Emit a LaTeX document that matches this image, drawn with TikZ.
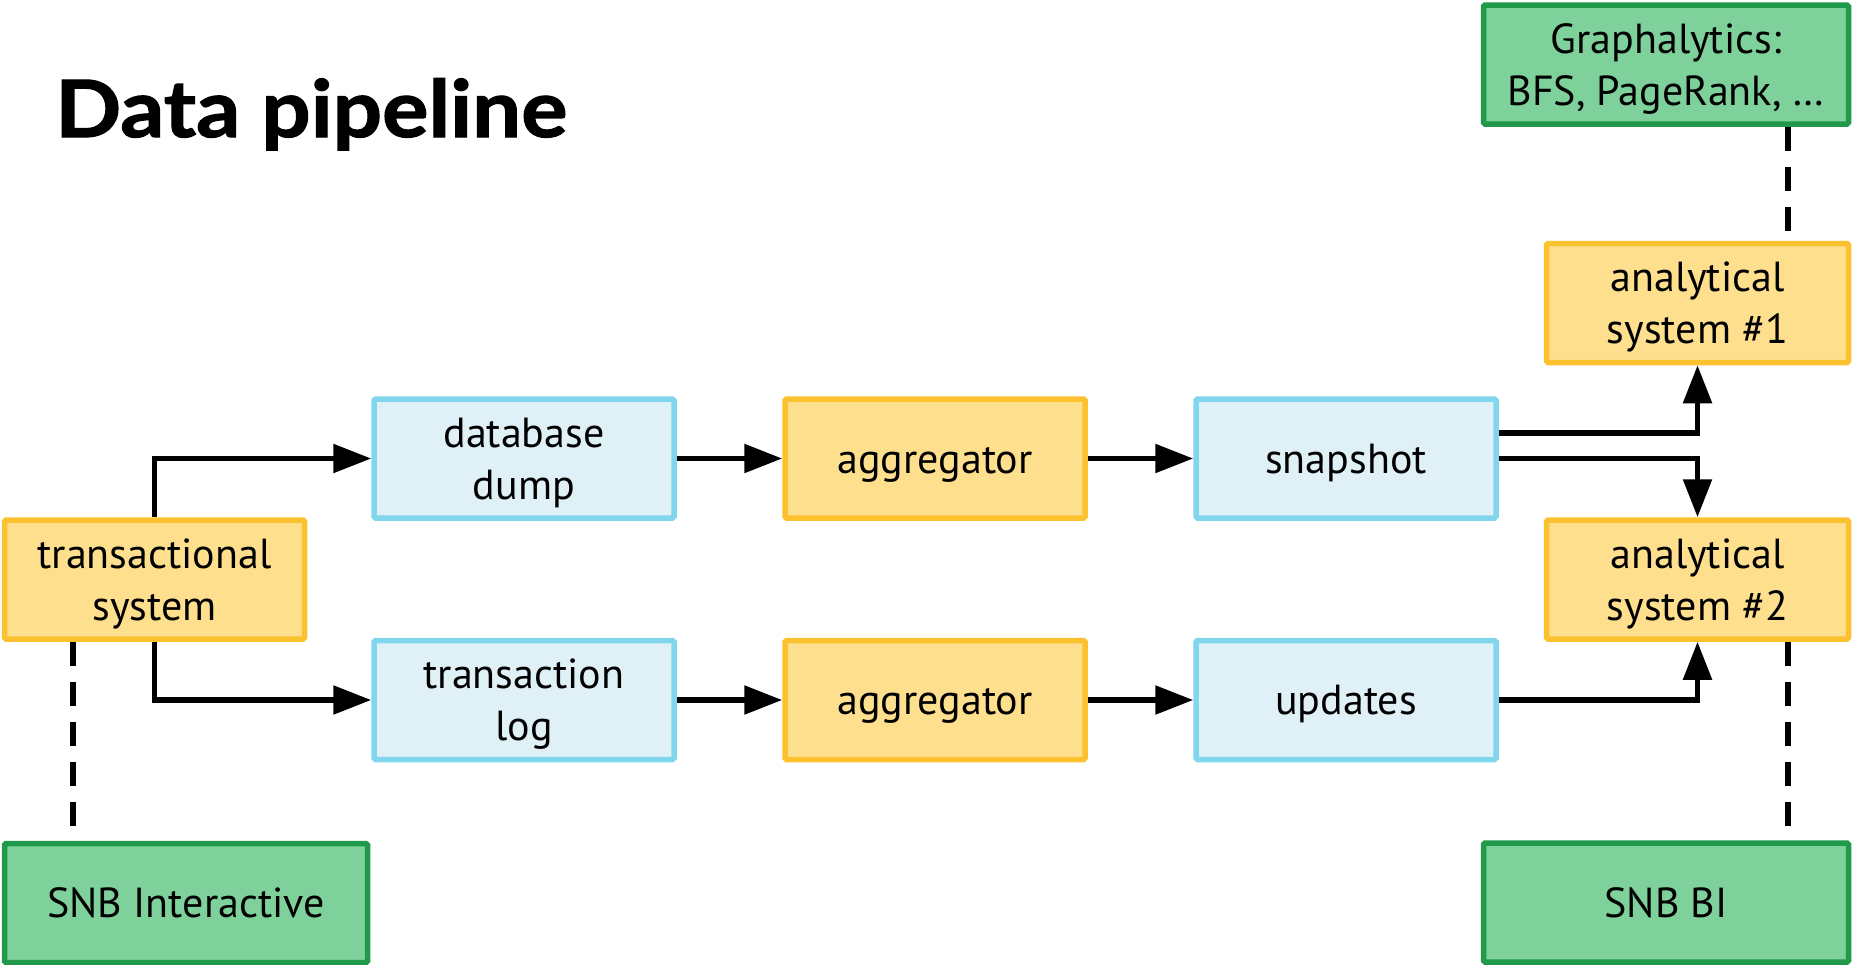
\documentclass[tikz,border=0pt]{standalone}
\usepackage{fontspec}
\setmainfont{PT Sans}
\newfontfamily\titlefont{Lato}[FakeStretch=1.1, FakeBold=1.5]
\usetikzlibrary{arrows.meta}

\definecolor{yelfill}{HTML}{FDDF8E}
\definecolor{yeldraw}{HTML}{FCC12E}
\definecolor{bluefill}{HTML}{DFF1F7}
\definecolor{bluedraw}{HTML}{80D6EC}
\definecolor{grnfill}{HTML}{7FD19B}
\definecolor{grndraw}{HTML}{20994A}

\begin{document}
\begin{tikzpicture}[x=1pt,y=-1pt,
  box/.style={draw, line width=5.5pt, rounded corners=1.5pt,
    minimum width=300pt, minimum height=119pt,
    inner sep=0pt, align=center, font=\fontsize{42}{52}\selectfont,
    text height=41pt, text depth=12pt},
  twoline/.style={text height=95pt, text depth=14pt},
  proc/.style={box, fill=yelfill, draw=yeldraw},
  store/.style={box, fill=bluefill, draw=bluedraw},
  bench/.style={box, fill=grnfill, draw=grndraw},
  arr/.style={line width=5.5pt, -{Triangle[length=38pt,width=28pt]}},
  dsh/.style={line width=5.5pt, dash pattern=on 24pt off 16pt}]
\useasboundingbox (0,0) rectangle (1855,964);

% title
\node[anchor=base west, inner sep=0pt, font=\titlefont\bfseries\fontsize{79}{90}\selectfont]
  (title) at (55,137) {Data pipeline};

% pipeline boxes
\node[proc, twoline] (ts) at (154.5,579.5) {transactional\\system};
\node[store, twoline] (dd) at (524,458.5) {database\\dump};
\node[store, twoline] (tl) at (524,700) {transaction\\log};
\node[proc] (ag1) at (935,458.5) {aggregator};
\node[proc] (ag2) at (935,700) {aggregator};
\node[store] (snap) at (1346,458.5) {snapshot};
\node[store] (upd) at (1346,700) {updates};
\node[proc, twoline, minimum width=302pt] (as1) at (1697.5,303) {analytical\\system \#1};
\node[proc, twoline, minimum width=302pt] (as2) at (1697.5,579.5) {analytical\\system \#2};

% benchmark boxes
\node[bench, twoline, minimum width=365pt] (gr) at (1666,64.5) {Graphalytics:\\BFS, PageRank, \dots};
\node[bench, minimum width=365pt] (bi) at (1666,902.5) {SNB BI};
\node[bench, minimum width=363pt] (snbi) at (186,903) {SNB Interactive};

% data flow
\draw[arr] (ts.north) |- (dd.west);
\draw[arr] (ts.south) |- (tl.west);
\draw[arr] (dd.east) -- (ag1.west);
\draw[arr] (tl.east) -- (ag2.west);
\draw[arr] (ag1.east) -- (snap.west);
\draw[arr] (ag2.east) -- (upd.west);
\draw[arr] ([yshift=25.5pt]snap.east) -| (as1.south);
\draw[arr] (snap.east) -| (as2.north);
\draw[arr] (upd.east) -| (as2.south);

% benchmark links
\coordinate (dl) at (73,0);
\coordinate (dr) at (1788,0);
\draw[dsh] (ts.south -| dl) -- (snbi.north -| dl);
\draw[dsh] (gr.south -| dr) -- (as1.north -| dr);
\draw[dsh] (as2.south -| dr) -- (bi.north -| dr);
\end{tikzpicture}
\end{document}
